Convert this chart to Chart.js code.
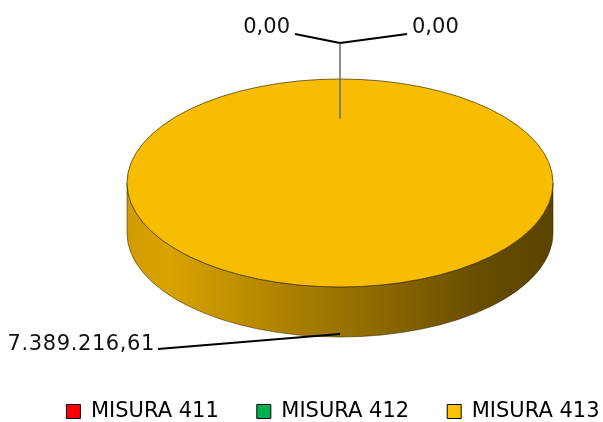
<!DOCTYPE html>
<html><head><meta charset="utf-8">
<script src="https://cdn.jsdelivr.net/npm/chart.js@4"></script>
<style>html,body{margin:0;padding:0;background:#fff}#wrap{width:603px;height:422px;position:relative}</style>
</head><body><div id="wrap"><canvas id="c"></canvas></div>
<script>
const categories = ['MISURA 411', 'MISURA 412', 'MISURA 413'];
const values = [0, 0, 7389216.61];
const sliceColors = ['#FF0000', '#00B050', '#F8BC00'];
const legendColors = ['#FF0000', '#00B050', '#FFC000'];

const GEOM = {cx: 340, cy: 183, rx: 213, ry: 104, depth: 50};
const FONT = 'DejaVu Sans';
// label placement (styling): end point of leader line + text side
const LABEL_LAYOUT = [
  {inner: 0.62, elbowY: 43, endDx: -45, endY: 34, align: 'right', textY: 28},
  {inner: 0.62, elbowY: 43, endDx: 67, endY: 34, align: 'left', textY: 28},
  {endX: 158, endY: 349, align: 'right', textY: 350, spacing: '0.6px'}
];

function fmt(v) {
  const parts = Math.abs(v).toFixed(2).split('.');
  return (v < 0 ? '-' : '') + parts[0].replace(/\B(?=(\d{3})+(?!\d))/g, '.') + ',' + parts[1];
}

const pie3d = {
  id: 'pie3d',
  beforeDatasetsDraw(chart) {
    const ctx = chart.ctx;
    const meta = chart.getDatasetMeta(0);
    const {cx, cy, rx, ry, depth} = GEOM;
    const grad = ctx.createLinearGradient(cx - rx, 0, cx + rx, 0);
    grad.addColorStop(0, '#D29C00');
    grad.addColorStop(0.1, '#D8A200');
    grad.addColorStop(0.5, '#9A7300');
    grad.addColorStop(0.85, '#654B00');
    grad.addColorStop(1, '#5C4400');
    meta.data.forEach((arc) => {
      const p = arc.getProps(['startAngle', 'endAngle'], true);
      for (let k = -1; k <= 1; k++) {
        const s = Math.max(p.startAngle, 2 * Math.PI * k);
        const e = Math.min(p.endAngle, Math.PI + 2 * Math.PI * k);
        if (e > s) {
          ctx.save();
          ctx.beginPath();
          ctx.ellipse(cx, cy, rx, ry, 0, s, e);
          ctx.ellipse(cx, cy + depth, rx, ry, 0, e, s, true);
          ctx.closePath();
          ctx.fillStyle = grad;
          ctx.fill();
          ctx.strokeStyle = 'rgba(50,38,0,0.55)';
          ctx.lineWidth = 1;
          ctx.stroke();
          ctx.restore();
        }
      }
    });
    const a0 = meta.data[0];
    const R = a0.outerRadius;
    ctx.save();
    ctx.translate(cx, cy);
    ctx.scale(rx / R, ry / R);
    ctx.translate(-a0.x, -a0.y);
  },
  afterDatasetsDraw(chart) {
    const ctx = chart.ctx;
    ctx.restore();
    const meta = chart.getDatasetMeta(0);
    const {cx, cy, rx, ry, depth} = GEOM;
    ctx.save();
    ctx.beginPath();
    ctx.ellipse(cx, cy, rx, ry, 0, 0, Math.PI * 2);
    ctx.strokeStyle = 'rgba(60,45,0,0.7)';
    ctx.lineWidth = 1;
    ctx.stroke();
    ctx.restore();

    ctx.save();
    ctx.font = '21px "' + FONT + '"';
    ctx.fillStyle = '#111';
    meta.data.forEach((arc, i) => {
      const p = arc.getProps(['startAngle', 'endAngle'], true);
      const a = (p.startAngle + p.endAngle) / 2;
      const L = LABEL_LAYOUT[i];
      const text = fmt(values[i]);
      if (L.elbowY !== undefined) {
        const ax = cx + rx * L.inner * Math.cos(a);
        const ay = cy + ry * L.inner * Math.sin(a);
        ctx.beginPath();
        ctx.moveTo(ax, ay);
        ctx.lineTo(ax, L.elbowY);
        ctx.strokeStyle = '#6a6a6a';
        ctx.lineWidth = 1;
        ctx.stroke();
        const ex = ax + L.endDx;
        ctx.beginPath();
        ctx.moveTo(ax, L.elbowY);
        ctx.lineTo(ex, L.endY);
        ctx.strokeStyle = '#000';
        ctx.lineWidth = 2;
        ctx.stroke();
        ctx.textBaseline = 'middle';
        ctx.textAlign = L.align;
        ctx.fillText(text, L.align === 'right' ? ex - 5 : ex + 5, L.textY);
      } else {
        const ax = cx + rx * Math.cos(a);
        const ay = cy + ry * Math.sin(a) + depth - 3;
        ctx.beginPath();
        ctx.moveTo(ax, ay);
        ctx.lineTo(L.endX, L.endY);
        ctx.strokeStyle = '#000';
        ctx.lineWidth = 2;
        ctx.stroke();
        ctx.textBaseline = 'alphabetic';
        ctx.textAlign = 'right';
        if (L.spacing) ctx.letterSpacing = L.spacing;
        ctx.fillText(text, L.endX - 3, L.textY);
        ctx.letterSpacing = '0px';
      }
    });
    ctx.restore();
  }
};

new Chart(document.getElementById('c'), {
  type: 'pie',
  data: {
    labels: categories,
    datasets: [{data: values, backgroundColor: sliceColors, borderWidth: 0}]
  },
  options: {
    responsive: true,
    maintainAspectRatio: false,
    animation: false,
    events: [],
    layout: {padding: {left: 20, right: -43, top: 0, bottom: -10}},
    plugins: {
      tooltip: {enabled: false},
      legend: {
        position: 'bottom',
        labels: {
          font: {family: FONT, size: 21},
          color: '#000',
          boxWidth: 14,
          boxHeight: 14,
          padding: 38,
          generateLabels() {
            return categories.map((c, i) => ({
              text: c, fillStyle: legendColors[i], strokeStyle: '#000',
              lineWidth: 1, hidden: false, index: i, fontColor: '#000'
            }));
          }
        }
      }
    }
  },
  plugins: [pie3d]
});
</script>
</body></html>
